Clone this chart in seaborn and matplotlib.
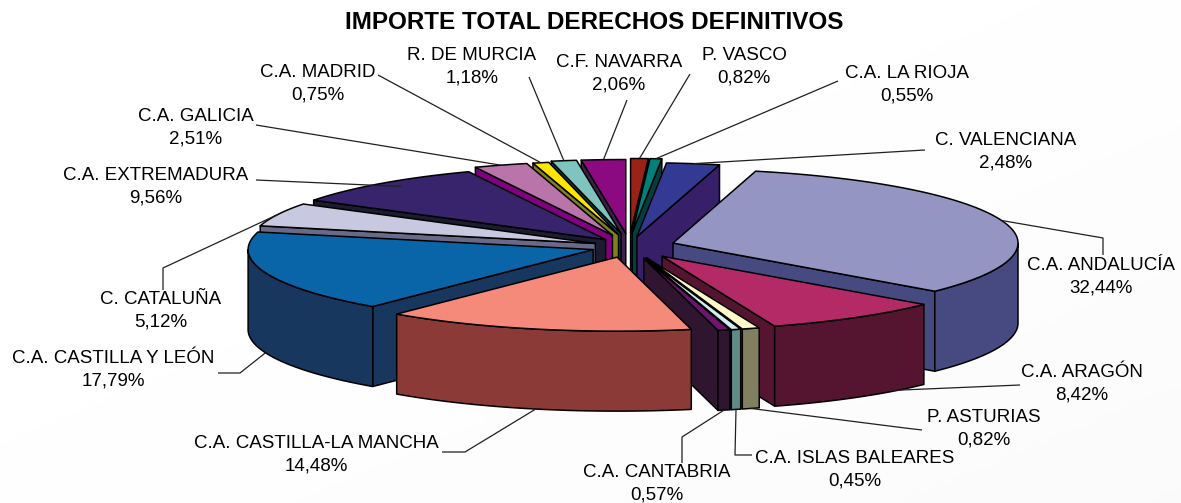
import numpy as np
import matplotlib
matplotlib.use("Agg")
import matplotlib.pyplot as plt
from matplotlib.patches import Polygon
import seaborn as sns

regions = ["P. VASCO", "C.A. LA RIOJA", "C. VALENCIANA", "C.A. ANDALUCÍA", "C.A. ARAGÓN",
           "P. ASTURIAS", "C.A. ISLAS BALEARES", "C.A. CANTABRIA", "C.A. CASTILLA-LA MANCHA",
           "C.A. CASTILLA Y LEÓN", "C. CATALUÑA", "C.A. EXTREMADURA", "C.A. GALICIA",
           "C.A. MADRID", "R. DE MURCIA", "C.F. NAVARRA"]
shares = [0.82, 0.55, 2.48, 32.44, 8.42, 0.82, 0.45, 0.57, 14.48, 17.79, 5.12, 9.56, 2.51, 0.75, 1.18, 2.06]
top_colors = ["#9A2318", "#008078", "#333A94", "#9595C3", "#B32A66", "#FFF8C8", "#D0EEEE", "#6F1470",
              "#F58A7A", "#0A64A8", "#C8C8E0", "#38246C", "#B974AA", "#FFE400", "#80C4C0", "#8B0A80"]
side_colors = ["#5A1510", "#004040", "#381F6A", "#464A80", "#551530", "#808060", "#5F8A85", "#301530",
               "#8C3A38", "#17375E", "#6A6A88", "#1C1C30", "#800080", "#808020", "#004A50", "#40204A"]
label_xy = [(744, 67), (907, 85), (1006, 152), (1101, 277), (1082, 384), (984, 429), (855, 470), (657, 484),
            (316, 455), (113, 370), (161, 311), (156, 187), (196, 128), (318, 84), (472, 67), (619, 74)]
elbows = [[(690, 74)], [(838, 81)], [(925, 150)], [(1103, 238), (1103, 255)], [(1020, 385)],
          [(905, 428), (922, 430)], [(735, 455), (752, 455)], [(682, 437), (682, 463)],
          [(465, 452), (442, 452)], [(240, 373), (218, 373)], [(163, 268), (163, 290)],
          [(256, 180)], [(256, 125)], [(378, 75)], [(529, 77)], [(627, 100)]]
# small per-slice shifts of the exploded slices, in pixels
nudges = [(-4.5, 0), (-4.7, 0), (-4, 4), (-1, 1.5), (4.5, 0), (0, 0), (0, 0), (0, 0),
          (-7, -1), (-1, 0), (0, 3), (-1, 4), (-8, 2), (-6, 2), (-6, 1), (-5.5, 1)]
# shifts of the leader ends that do not sit exactly at the slice's mid angle
leader_shifts = {4: (35, -7), 11: (20, 3)}

CX, CY, A, B, DEPTH, EX, EY = 634, 245.5, 345, 74, 80, 42, 13

sns.set_theme(style="white")
plt.rcParams["font.family"] = ["Liberation Sans", "DejaVu Sans"]
fig = plt.figure(figsize=(11.81, 5.03), dpi=100)
ax = fig.add_axes([0, 0, 1, 1])
ax.set_xlim(0, 1181)
ax.set_ylim(503, 0)
ax.axis("off")

xx, yy = np.meshgrid(np.linspace(0, 1, 236), np.linspace(0, 1, 100))
grad = np.clip((xx + yy) / 2, 0, 1) ** 2
ax.imshow(1 - 0.02 * grad, extent=(0, 1181, 503, 0), cmap="gray", vmin=0, vmax=1, aspect="auto", zorder=0)

fractions = np.array(shares) / sum(shares)
edges = np.concatenate([[0], np.cumsum(fractions)]) * 2 * np.pi
mids = (edges[:-1] + edges[1:]) / 2


def apex(i):
    return np.array([CX + EX * np.sin(mids[i]) + nudges[i][0], CY - EY * np.cos(mids[i]) + nudges[i][1]])


def rim(ap, t):
    t = np.asarray(t)
    return np.column_stack([ap[0] + A * np.sin(t), ap[1] - B * np.cos(t)])


def area(p):
    x, y = np.asarray(p).T
    return 0.5 * np.sum(x * np.roll(y, -1) - y * np.roll(x, -1))


# painter's order: the slice reaching lowest on the page goes last
order = sorted(range(len(shares)), key=lambda k: rim(apex(k), np.linspace(edges[k], edges[k + 1], 80))[:, 1].max())
for z, i in enumerate(order):
    t0, t1 = edges[i], edges[i + 1]
    ap = apex(i)
    arc = rim(ap, np.linspace(t0, t1, 80))
    down = np.array([0, DEPTH])
    style = dict(edgecolor="black", linewidth=1.1, joinstyle="round", zorder=2 + z)
    faces = []
    # radial cut faces: keep the ones turned towards the viewer
    for p, sign in ((arc[0], -1), (arc[-1], 1)):
        quad = np.array([ap, p, p + down, ap + down])
        if sign * area(quad) > 0:
            faces.append(quad)
    # outer wall of the part of the arc on the near side
    lo, hi = max(t0, np.pi / 2), min(t1, 3 * np.pi / 2)
    if hi > lo:
        wall = rim(ap, np.linspace(lo, hi, 80))
        faces.append(np.vstack([wall, (wall + down)[::-1]]))
    for f in faces:
        ax.add_patch(Polygon(f, closed=True, facecolor=side_colors[i], **style))
    ax.add_patch(Polygon(np.vstack([ap, arc]), closed=True, facecolor=top_colors[i], **style))

for i, name in enumerate(regions):
    p = rim(apex(i), [mids[i]])[0]
    if np.cos(mids[i]) < 0:
        p = p + np.array([0, DEPTH])
    p = p + np.array(leader_shifts.get(i, (0, 0)))
    pts = np.vstack([[p], np.array(elbows[i])])
    ax.plot(pts[:, 0], pts[:, 1], color="#202020", lw=0.9, zorder=40, solid_capstyle="butt")
    value = f"{shares[i]:.2f}".replace(".", ",") + "%"
    ax.text(label_xy[i][0], label_xy[i][1], f"{name}\n{value}", ha="center", va="center",
            fontsize=13.5, color="black", linespacing=1.44, zorder=50)

ax.text(594, 22, "IMPORTE TOTAL DERECHOS DEFINITIVOS", ha="center", va="center",
        fontsize=17.5, fontweight="bold", color="black", zorder=50)
fig.savefig("out.png", dpi=100)
